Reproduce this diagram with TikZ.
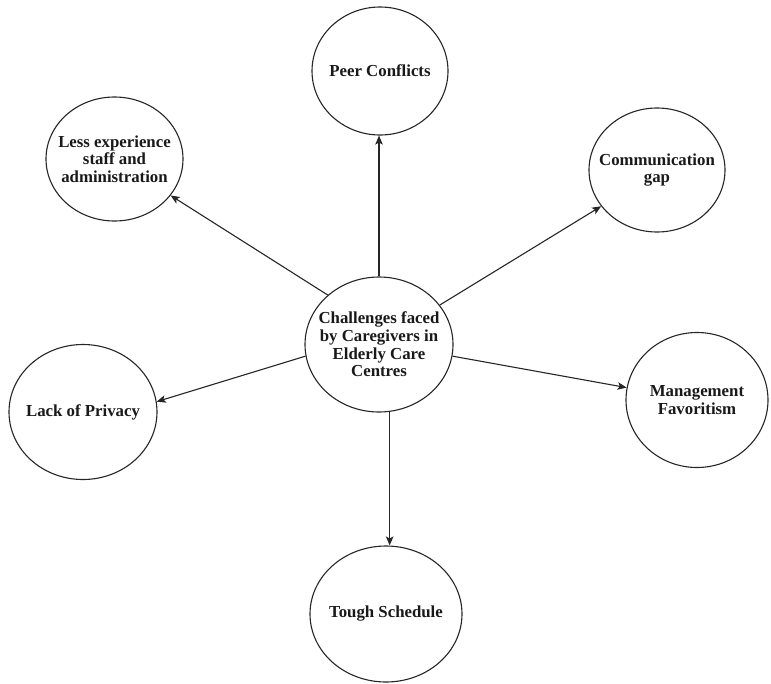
\documentclass[tikz,border=0pt]{standalone}
\usepackage{fontspec}
\setmainfont{Liberation Serif}
\usetikzlibrary{shapes.geometric,arrows.meta}
\tikzset{
  bub/.style={draw=black!85, line width=1.1pt, ellipse, inner sep=0pt, fill=white},
  txt/.style={font=\bfseries\fontsize{16.8}{17.7}\selectfont, align=center, text=black!90},
  conn/.style={draw=black!85, line width=1.1pt, -{Stealth[length=9pt,width=7.5pt,inset=2pt]}}
}
\begin{document}
\begin{tikzpicture}[x=1pt,y=-1pt]
\useasboundingbox (0,0) rectangle (771,683);
\node[bub, minimum width=148pt, minimum height=135pt,
  label={[txt]center:Challenges faced\\by Caregivers in\\Elderly Care\\Centres}] (c) at (379,344.5) {};
\node[bub, minimum width=136pt, minimum height=128pt,
  label={[txt]center:Peer Conflicts}] (p) at (380,71) {};
\node[bub, minimum width=137pt, minimum height=124pt,
  label={[txt]center:Less experience\\staff and\\administration}] (l) at (114.5,159) {};
\node[bub, minimum width=136pt, minimum height=124pt,
  label={[txt]center:Communication\\gap}] (m) at (657,170) {};
\node[bub, minimum width=148pt, minimum height=135pt,
  label={[txt]center:Lack of Privacy}] (lp) at (83,412) {};
\node[bub, minimum width=142pt, minimum height=135pt,
  label={[txt]center:Management\\Favoritism}] (mf) at (697,400) {};
\node[bub, minimum width=152pt, minimum height=136pt,
  label={[txt]center:Tough Schedule}] (t) at (386,614) {};
\draw[conn] (c.north) -- (c.north |- p.south);
\draw[conn] (c.-81.5) -- (c.-81.5 |- t.north);
\draw[conn] (c.136.7) -- (l.-33.2);
\draw[conn] (c.33.4) -- (m.-147.9);
\draw[conn] (c.189) -- (lp.8.3);
\draw[conn] (c.-9.6) -- (mf.170.5);
\end{tikzpicture}
\end{document}
